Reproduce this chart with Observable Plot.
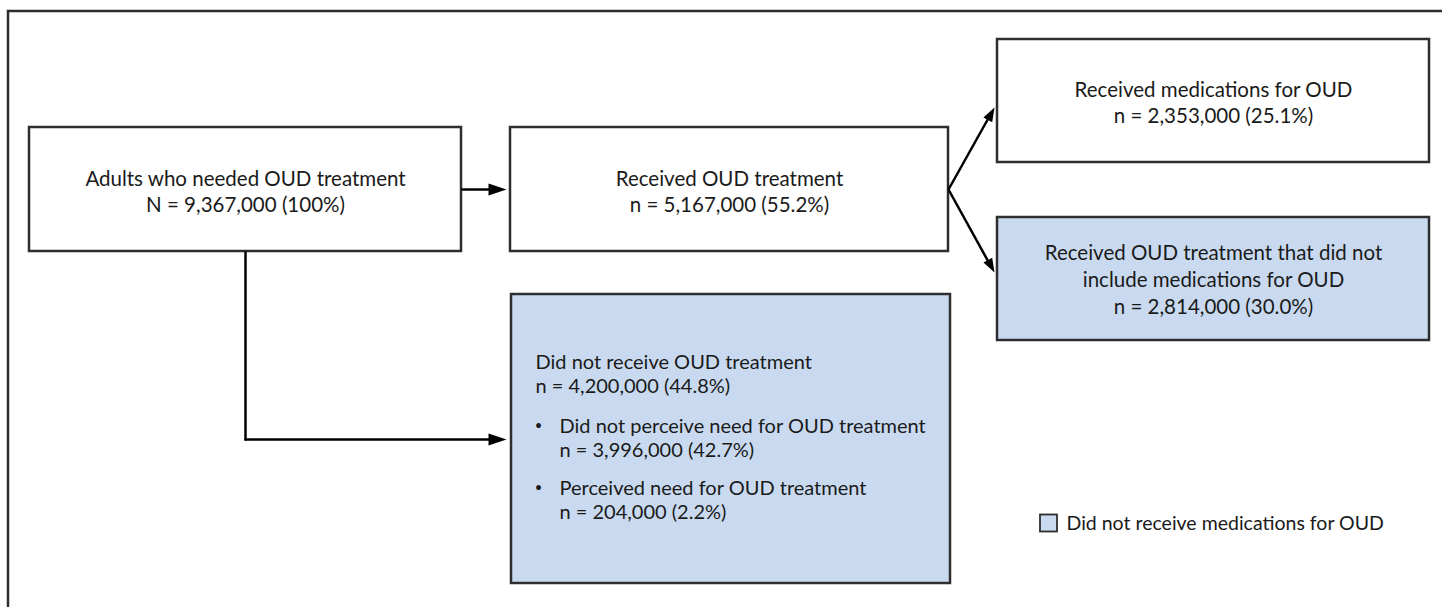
<!DOCTYPE html>
<html>
<head>
<meta charset="utf-8">
<script src="https://cdn.jsdelivr.net/npm/d3@7"></script>
<script src="https://cdn.jsdelivr.net/npm/@observablehq/plot@0.6"></script>
<style>
  html, body { margin: 0; padding: 0; background: #fff; overflow: hidden; }
  #chart svg { display: block; }
</style>
</head>
<body>
<div id="chart"></div>
<script>
// ---- Data ----
const boxLabels = [
  "Adults who needed OUD treatment",
  "Received OUD treatment",
  "Received medications for OUD",
  "Received OUD treatment that did not\ninclude medications for OUD",
  "Did not receive OUD treatment"
];
const boxPrefix = ["N", "n", "n", "n", "n"];
const boxCounts = [9367000, 5167000, 2353000, 2814000, 4200000];
const boxPercents = [100, 55.2, 25.1, 30.0, 44.8];
const boxNoMedication = [false, false, false, true, true];

const subLabels = ["Did not perceive need for OUD treatment", "Perceived need for OUD treatment"];
const subCounts = [3996000, 204000];
const subPercents = [42.7, 2.2];

const legendLabel = "Did not receive medications for OUD";

// ---- Layout (pixel coordinates of the flowchart) ----
const layout = [
  {x1: 29,  x2: 461,  y1: 127, y2: 251, ty: 190},
  {x1: 510, x2: 948,  y1: 127, y2: 251, ty: 190},
  {x1: 997, x2: 1429, y1: 39,  y2: 162, ty: 101},
  {x1: 997, x2: 1429, y1: 217, y2: 340, ty: 278},
  {x1: 511, x2: 950,  y1: 294, y2: 583, ty: 373}
];
const subLayout = [{y: 437}, {y: 499}];
const legendPos = {x: 1040, y: 523, size: 17};

const fmt = d3.format(",");
const pct = p => (p === 100 ? "100" : p.toFixed(1)) + "%";
const BLUE = "#c9daf0";
const INK = "#1a1a1a";
const EDGE = "#2e2e2e";
const FONT = "Lato, 'Open Sans', sans-serif";

const boxes = boxLabels.map((label, i) => ({
  ...layout[i],
  text: `${label}\n${boxPrefix[i]} = ${fmt(boxCounts[i])} (${pct(boxPercents[i])})`,
  fill: boxNoMedication[i] ? BLUE : "white",
  centered: i < 4
}));
const subs = subLabels.map((label, i) => ({
  ...subLayout[i],
  text: `${label}\nn = ${fmt(subCounts[i])} (${pct(subPercents[i])})`
}));

// connectors
const links = [
  {x1: 461, y1: 189, x2: 498, y2: 189},
  {x1: 245, y1: 251, x2: 245, y2: 440},
  {x1: 244, y1: 439, x2: 497, y2: 439},
  {x1: 948, y1: 189, x2: 990, y2: 114},
  {x1: 948, y1: 189, x2: 990, y2: 265}
];
const heads = [
  {x: 506, y: 189, angle: 90, L: 18, W: 6},
  {x: 506, y: 439, angle: 90, L: 18, W: 6},
  {x: 994, y: 107, angle: 28.5, L: 14, W: 5},
  {x: 994, y: 272, angle: 151.5, L: 14, W: 5}
];
const headSymbol = (L, W) => ({
  draw(ctx) { ctx.moveTo(0, 0); ctx.lineTo(-W, L); ctx.lineTo(W, L); ctx.closePath(); }
});

const marks = [
  // outer frame (only top and left are visible)
  Plot.rect([0], {x1: 8, x2: 1460, y1: 11, y2: 640, fill: "none", stroke: EDGE, strokeWidth: 2.5}),
  Plot.rect(boxes, {x1: "x1", x2: "x2", y1: "y1", y2: "y2", fill: "fill", stroke: EDGE, strokeWidth: 2.5}),
  Plot.link(links, {x1: "x1", y1: "y1", x2: "x2", y2: "y2", stroke: "#000", strokeWidth: 2.5}),
  ...heads.map(h => Plot.dot([h], {x: "x", y: "y", rotate: h.angle, r: 5, symbol: headSymbol(h.L, h.W), fill: "#000", stroke: "none"})),
  Plot.text(boxes.filter(b => b.centered), {
    x: d => (d.x1 + d.x2) / 2, y: "ty", text: "text",
    fontSize: 20.5, lineHeight: 1.3, fill: INK, fontFamily: FONT, lineAnchor: "middle"
  }),
  Plot.text(boxes.filter(b => !b.centered), {
    x: d => d.x1 + 24, y: "ty", text: "text", textAnchor: "start",
    fontSize: 20, lineHeight: 1.2, fill: INK, fontFamily: FONT, lineAnchor: "middle"
  }),
  Plot.text(subs, {
    x: 559, y: "y", text: "text", textAnchor: "start",
    fontSize: 20, lineHeight: 1.2, fill: INK, fontFamily: FONT, lineAnchor: "middle"
  }),
  Plot.text(subs, {
    x: 538, y: d => d.y - 12, text: () => "•", textAnchor: "middle",
    fontSize: 13, fill: INK, fontFamily: FONT, lineAnchor: "middle"
  }),
  // legend
  Plot.rect([legendPos], {
    x1: d => d.x, x2: d => d.x + d.size, y1: d => d.y - d.size / 2, y2: d => d.y + d.size / 2,
    fill: BLUE, stroke: EDGE, strokeWidth: 1.8
  }),
  Plot.text([legendLabel], {
    x: legendPos.x + legendPos.size + 9, y: legendPos.y, text: d => d, textAnchor: "start",
    fontSize: 19.5, fill: INK, fontFamily: FONT, lineAnchor: "middle"
  })
];

const chart = Plot.plot({
  width: 1442,
  height: 607,
  margin: 0,
  x: {domain: [0, 1442], range: [0, 1442], axis: null},
  y: {domain: [0, 607], range: [0, 607], axis: null},
  color: {type: "identity"},
  style: {background: "white", overflow: "hidden"},
  marks
});
document.getElementById("chart").appendChild(chart);
</script>
</body>
</html>
